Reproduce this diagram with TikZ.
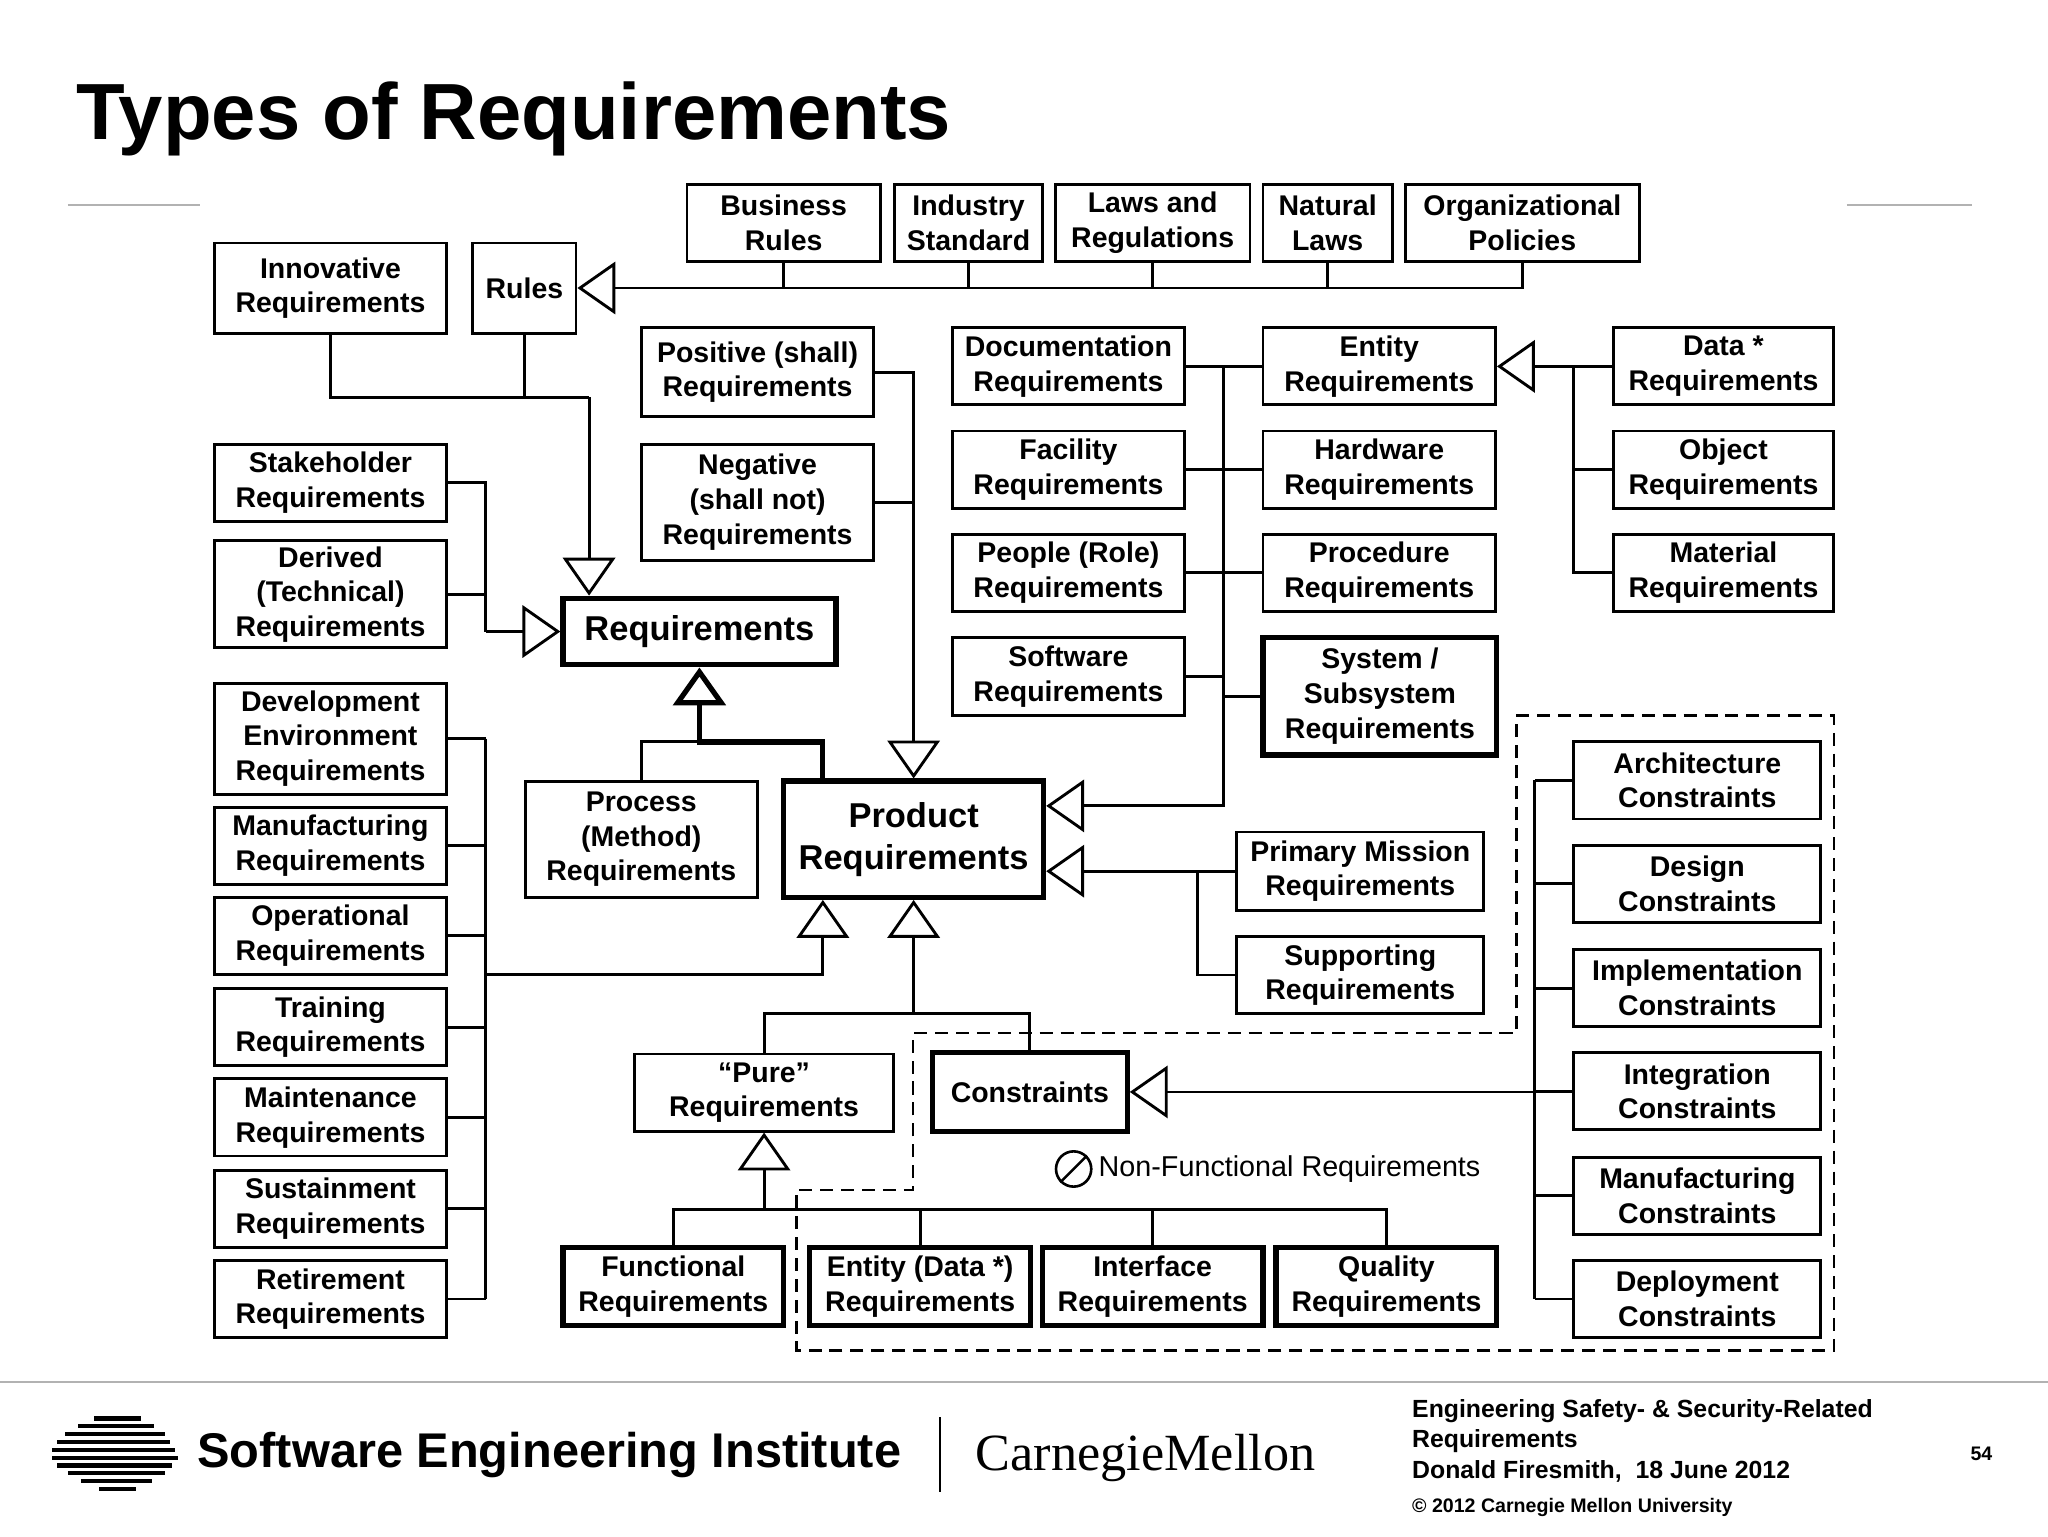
\documentclass[tikz,border=0pt]{standalone}
\usepackage{fontspec}
\setmainfont{Liberation Sans}
\newfontfamily\serif{Liberation Serif}
\usetikzlibrary{arrows.meta}
\tikzset{
  box/.style={draw,line width=2.2pt,align=center,inner sep=0pt,font=\bfseries\fontsize{21.8}{26.5}\selectfont},
  tbox/.style={box,line width=4pt},
  ln/.style={line width=2.2pt},
  tln/.style={line width=4pt},
  tri/.style={-{Triangle[length=29pt,width=40pt,fill=white]}},
  rtri/.style={{Triangle[length=29pt,width=40pt,fill=white]}-},
}
\newcommand\bx[7][]{\node[box,#1,minimum width={(#5-#3)*1pt},minimum height={(#6-#4)*1pt}] (#2) at ({(#3+#5)/2},{(#4+#6)/2}) {#7};}
\begin{document}
\begin{tikzpicture}[x=1pt,y=-1pt]
\useasboundingbox (0,0) rectangle (1568,1176);
\fill[white] (0,0) rectangle (1568,1176);
% title
\node[anchor=base west,inner sep=0,font=\bfseries\fontsize{61}{61}\selectfont] (title) at (58,107) {Types of Requirements};
\draw[gray!60,line width=1pt] (52,157) -- (153,157);
\draw[gray!60,line width=1pt] (1414,157) -- (1510,157);
% dashed region
\draw[line width=2pt,dash pattern=on 10pt off 6pt] (1161,548) -- (1404,548) -- (1404,1034) -- (610,1034) -- (610,911) -- (699,911) -- (699,791) -- (1161,791) -- cycle;
% boxes
\bx{biz}{526}{141}{674}{200}{Business\\Rules}
\bx{ind}{685}{141}{798}{200}{Industry\\Standard}
\bx{laws}{808}{141}{957}{200}{Laws and\\Regulations}
\bx{nat}{967}{141}{1066}{200}{Natural\\Laws}
\bx{org}{1076}{141}{1255}{200}{Organizational\\Policies}
\bx{innov}{164}{186}{342}{255}{Innovative\\Requirements}
\bx{rules}{362}{186}{441}{255}{Rules}
\bx{pos}{491}{251}{669}{319}{Positive (shall)\\Requirements}
\bx{neg}{491}{340}{669}{429}{Negative\\(shall not)\\Requirements}
\bx{doc}{729}{251}{907}{310}{Documentation\\Requirements}
\bx{fac}{729}{330}{907}{389}{Facility\\Requirements}
\bx{peo}{729}{409}{907}{468}{People (Role)\\Requirements}
\bx{soft}{729}{488}{907}{548}{Software\\Requirements}
\bx{ent}{967}{251}{1145}{310}{Entity\\Requirements}
\bx{hard}{967}{330}{1145}{389}{Hardware\\Requirements}
\bx{proc}{967}{409}{1145}{468}{Procedure\\Requirements}
\bx[tbox]{sys}{967}{488}{1146}{578}{System /\\Subsystem\\Requirements}
\bx{data}{1235}{251}{1404}{310}{Data *\\Requirements}
\bx{obj}{1235}{330}{1404}{389}{Object\\Requirements}
\bx{mat}{1235}{409}{1404}{468}{Material\\Requirements}
\bx{stake}{164}{340}{342}{399}{Stakeholder\\Requirements}
\bx{der}{164}{414}{342}{496}{Derived\\(Technical)\\Requirements}
\node[tbox,minimum width=209pt,minimum height=51pt,font=\bfseries\fontsize{26.4}{32}\selectfont] (req) at (535.5,483.5) {Requirements};
\bx{dev}{164}{523}{342}{608}{Development\\Environment\\Requirements}
\bx{man}{164}{618}{342}{677}{Manufacturing\\Requirements}
\bx{ope}{164}{687}{342}{746}{Operational\\Requirements}
\bx{tra}{164}{757}{342}{816}{Training\\Requirements}
\bx{mai}{164}{826}{342}{885}{Maintenance\\Requirements}
\bx{sus}{164}{896}{342}{955}{Sustainment\\Requirements}
\bx{ret}{164}{965}{342}{1024}{Retirement\\Requirements}
\bx{process}{402}{598}{580}{687}{Process\\(Method)\\Requirements}
\node[tbox,minimum width=199pt,minimum height=89pt,font=\bfseries\fontsize{26.4}{32}\selectfont] (prod) at (699.5,642.5) {Product\\Requirements};
\bx{prim}{947}{637}{1136}{697}{Primary Mission\\Requirements}
\bx{supp}{947}{717}{1136}{776}{Supporting\\Requirements}
\bx{pure}{486}{807}{684}{866}{“Pure”\\Requirements}
\bx[tbox]{cons}{714}{806}{863}{866}{Constraints}
\bx[tbox]{func}{431}{955}{600}{1015}{Functional\\Requirements}
\bx[tbox]{ent2}{620}{955}{789}{1015}{Entity (Data *)\\Requirements}
\bx[tbox]{intf}{798}{955}{967}{1015}{Interface\\Requirements}
\bx[tbox]{qual}{977}{955}{1146}{1015}{Quality\\Requirements}
\bx{arch}{1205}{568}{1394}{627}{Architecture\\Constraints}
\bx{des}{1205}{647}{1394}{706}{Design\\Constraints}
\bx{imp}{1205}{727}{1394}{786}{Implementation\\Constraints}
\bx{integ}{1205}{806}{1394}{865}{Integration\\Constraints}
\bx{mfc}{1205}{886}{1394}{945}{Manufacturing\\Constraints}
\bx{dep}{1205}{965}{1394}{1024}{Deployment\\Constraints}
% coordinates
\coordinate (j1) at (451,304);
\coordinate (j2) at (372,483.5);
\coordinate (j3) at (535.5,568);
\coordinate (x630) at (630,0);
\coordinate (v937) at (937,0);
\coordinate (j4) at (937,617);
\coordinate (v1205) at (1205,0);
\coordinate (v917) at (917,0);
\coordinate (v372) at (372,0);
\coordinate (j6) at (372,746);
\coordinate (j7) at (699.5,776);
\coordinate (j8) at (585,926);
\coordinate (v1175) at (1175,0);
% connectors
\draw[ln,tri] (org.south) |- (rules.east);
\foreach \n in {biz,ind,laws,nat} \draw[ln] (\n.south) -- (\n.south |- rules.east);
\draw[ln] (innov.south) |- (j1);
\draw[ln] (rules.south) -- (rules.south |- j1);
\draw[ln,tri] (j1) -- (req.north -| j1);
\draw[ln] (stake.east) -| (j2);
\draw[ln] (der.east) -- (der.east -| j2);
\draw[ln,tri] (j2) -- (req.west);
\draw[ln,tri] (pos.east) -| (prod.north);
\draw[ln] (neg.east) -- (neg.east -| prod.north);
\draw[ln] (process.north) |- (j3);
\draw[tln,rtri] (req.south) -- (j3) -| (prod.north -| x630);
\foreach \n in {doc,fac,peo,soft} \draw[ln] (\n.east) -- (\n.east -| v937);
\foreach \n in {ent,hard,proc,sys} \draw[ln] (\n.west) -- (\n.west -| v937);
\draw[ln,tri] (doc.east -| v937) -- (j4) -- (j4 -| prod.east);
\draw[ln,rtri] (ent.east) -- (data.west);
\draw[ln] (data.west -| v1205) |- (mat.west);
\draw[ln] (obj.west -| v1205) -- (obj.west);
\draw[ln,tri] (prim.west) -- (prod.east |- prim.west);
\draw[ln] (supp.west) -| (prim.west -| v917);
\foreach \n in {dev,man,ope,tra,mai,sus,ret} \draw[ln] (\n.east) -- (\n.east -| v372);
\draw[ln] (dev.east -| v372) -- (ret.east -| v372);
\draw[ln,tri] (j6) -| (prod.south -| x630);
\draw[ln,rtri] (prod.south) -- (j7);
\draw[ln] (pure.north) |- (j7) -| (cons.north);
\draw[ln,rtri] (pure.south) -- (j8);
\draw[ln] (func.north) |- (j8) -| (qual.north);
\draw[ln] (ent2.north) -- (ent2.north |- j8);
\draw[ln] (intf.north) -- (intf.north |- j8);
\draw[ln,rtri] (cons.east) -- (cons.east -| v1175);
\foreach \n in {arch,des,imp,integ,mfc,dep} \draw[ln] (\n.west) -- (\n.west -| v1175);
\draw[ln] (arch.west -| v1175) -- (dep.west -| v1175);
% non-functional
\node[draw,circle,line width=2pt,minimum size=27pt,inner sep=0] (nfc) at (822,895) {};
\draw[line width=2pt] (nfc.south west) -- (nfc.north east);
\node[anchor=west,inner sep=0,font=\fontsize{22}{26}\selectfont] (nft) at (841,895) {Non-Functional Requirements};
% footer
\draw[gray!60,line width=1pt] (0,1058) -- (1568,1058);
\foreach \y/\a/\b in {1086/72/108,1092/60/118,1098/50/126,1104/44/130,1110/40/134,1116/40/136,1122/44/132,1128/52/126,1134/62/116,1140/76/104}
  \draw[line width=3.2pt] (\a,\y) -- (\b,\y);
\node[anchor=west,inner sep=0,font=\bfseries\fontsize{37.3}{37.3}\selectfont] (sei) at (151,1114) {Software Engineering Institute};
\draw[line width=1.5pt] (720,1085) -- (720,1142);
\node[anchor=west,inner sep=0,font=\serif\fontsize{40}{40}\selectfont] (cmu) at (747,1116) {CarnegieMellon};
\node[anchor=north west,inner sep=0,align=left,font=\bfseries\fontsize{19}{23.5}\selectfont] (ft) at (1081,1071) {Engineering Safety- \& Security-Related\\Requirements\\Donald Firesmith,~ 18 June 2012};
\node[anchor=west,inner sep=0,font=\bfseries\fontsize{15}{15}\selectfont] (cp) at (1081,1154) {© 2012 Carnegie Mellon University};
\node[inner sep=0,font=\bfseries\fontsize{15}{15}\selectfont] (pg) at (1517,1113) {54};
\end{tikzpicture}
\end{document}
